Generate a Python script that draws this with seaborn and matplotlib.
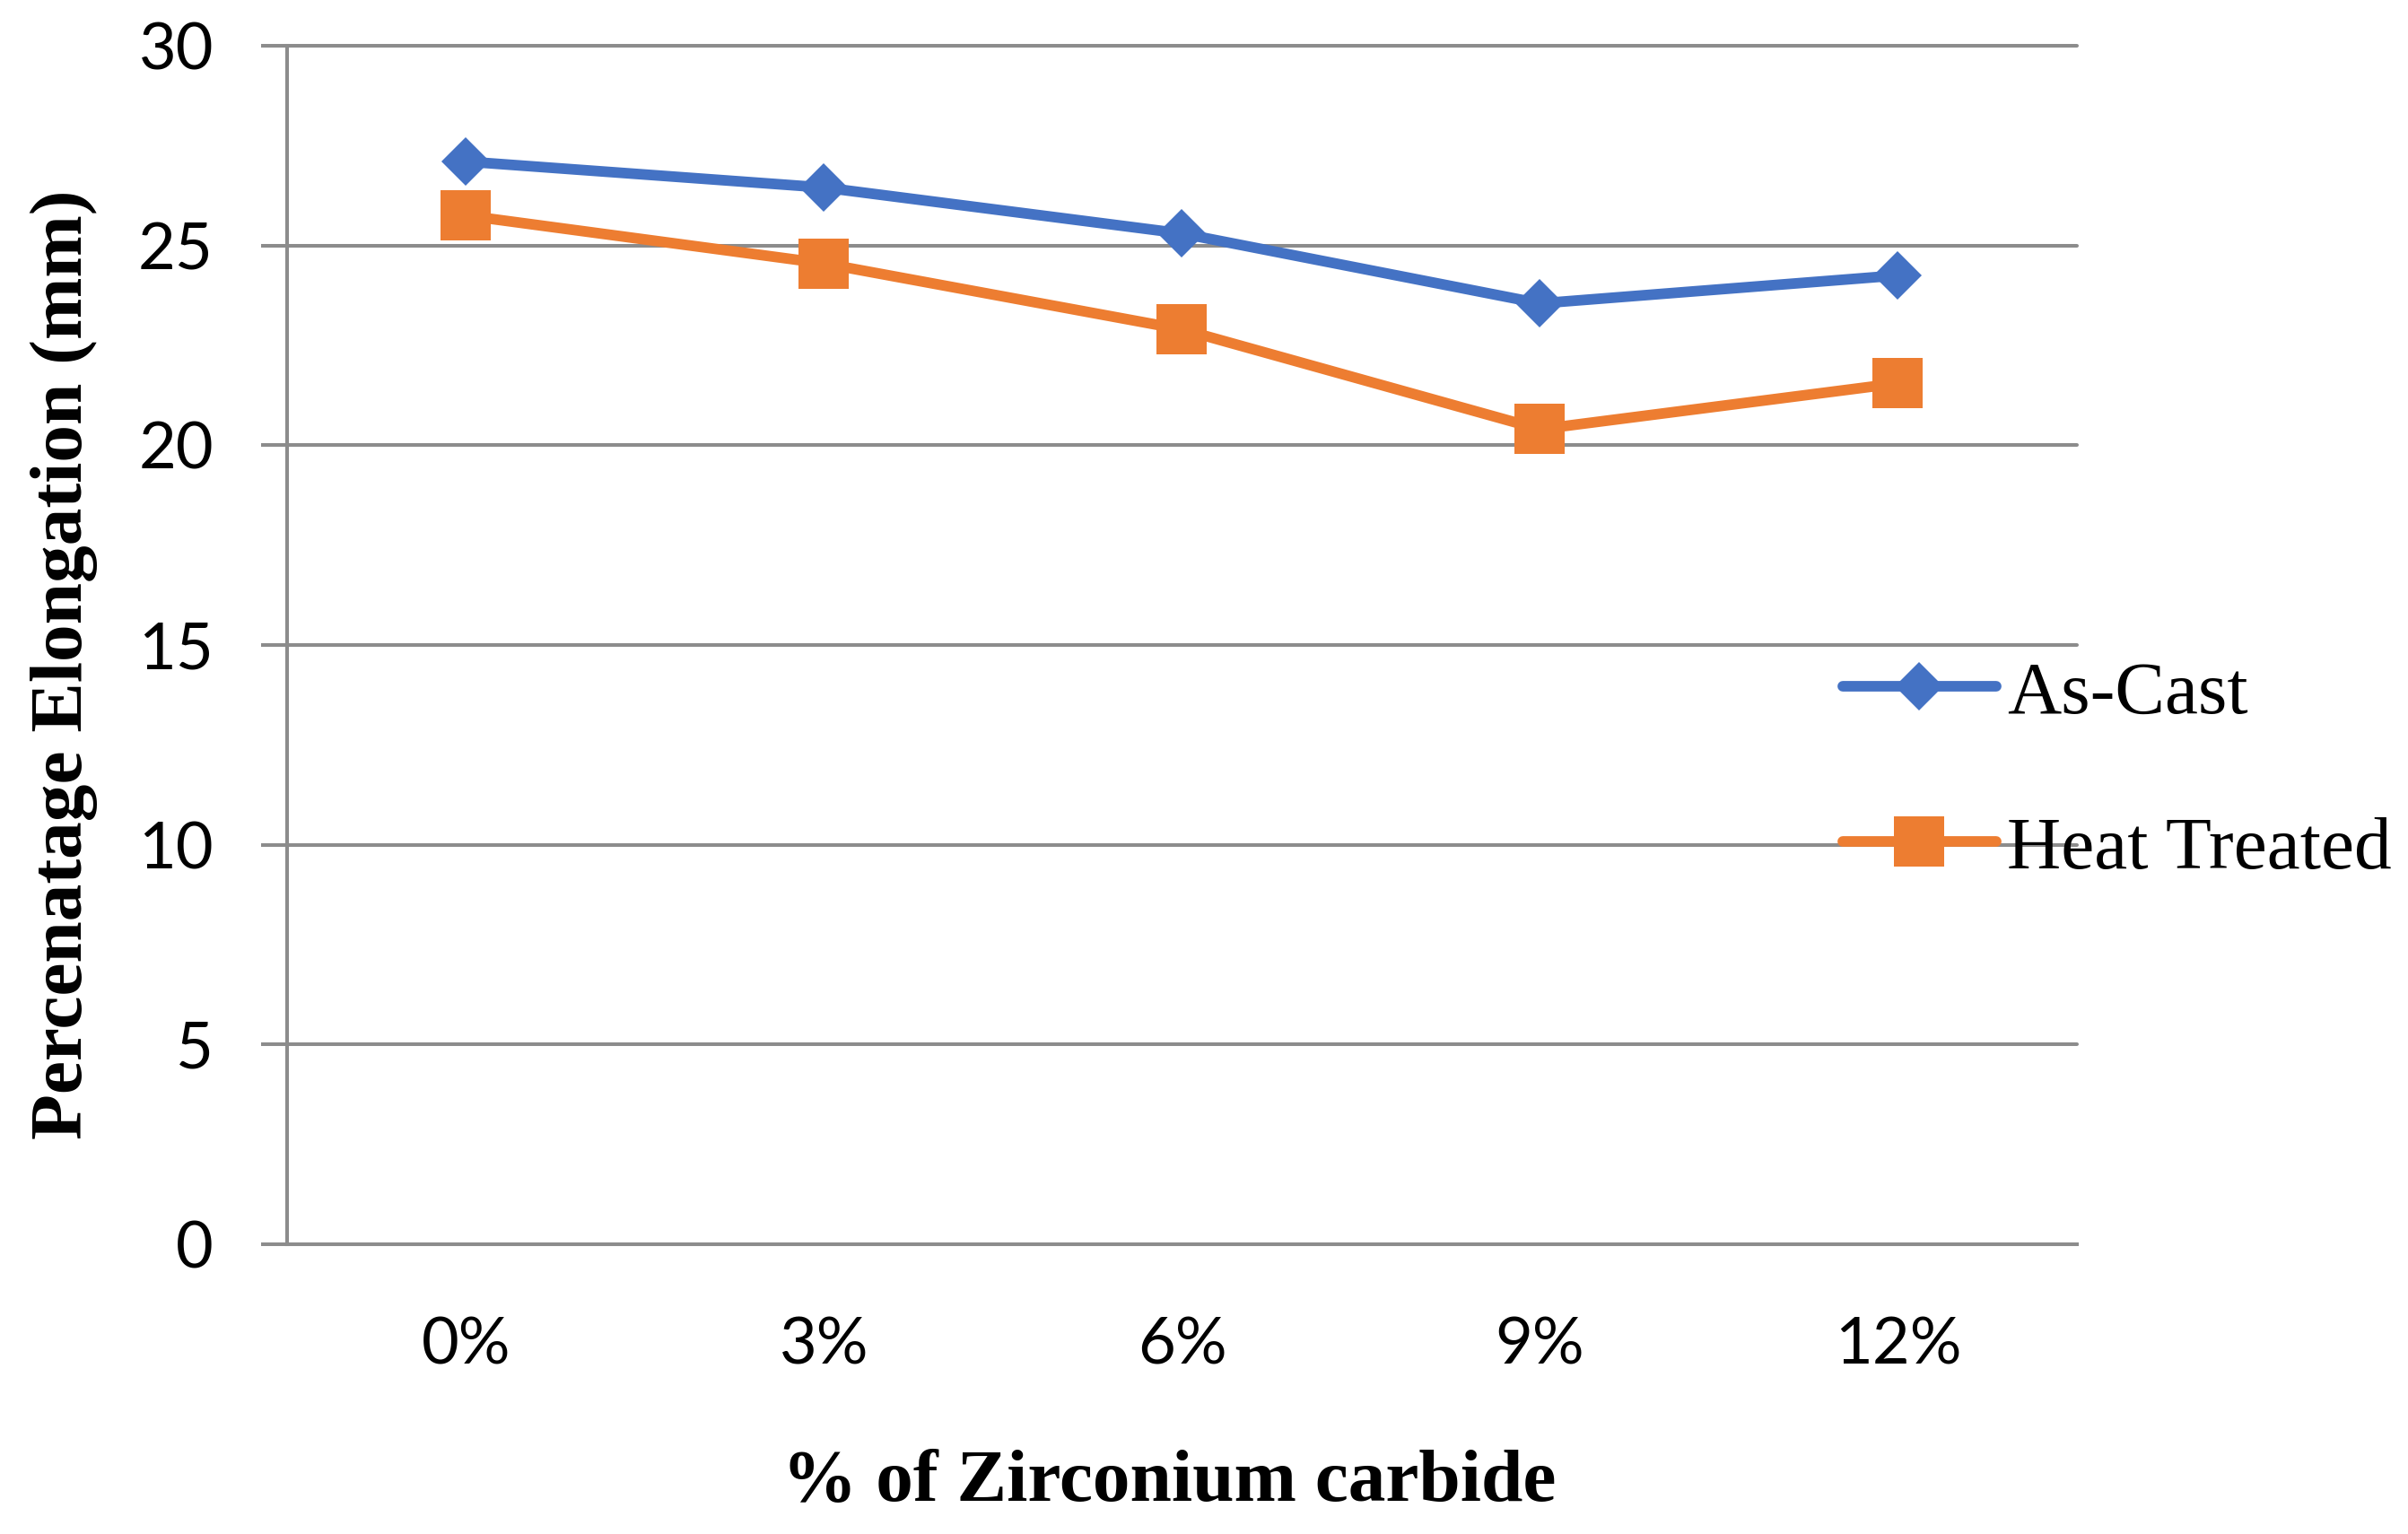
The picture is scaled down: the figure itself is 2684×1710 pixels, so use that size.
import seaborn as sns
import matplotlib.pyplot as plt

# data
categories = ['0%', '3%', '6%', '9%', '12%']
as_cast = [27.1, 26.45, 25.3, 23.55, 24.25]
heat_treated = [25.75, 24.55, 22.9, 20.4, 21.55]
y_ticks = [0, 5, 10, 15, 20, 25, 30]

GRAY = '#8c8c8c'
BLUE = '#4472C4'
ORANGE = '#ED7D31'


def make_chart():
    sns.set_style("white")
    plt.rcParams.update({'text.color': 'black', 'axes.labelcolor': 'black',
                         'xtick.color': 'black', 'ytick.color': 'black'})
    fig = plt.figure(figsize=(26.84, 17.10), dpi=100)
    ax = fig.add_axes([0.1192, 0.1889, 0.7433, 0.7813])

    x_pos = list(range(len(categories)))

    sns.lineplot(x=x_pos, y=heat_treated, ax=ax, color=ORANGE, linewidth=8.5,
                 marker='s', markersize=40, markeredgewidth=0,
                 label='Heat Treated', sort=False)
    sns.lineplot(x=x_pos, y=as_cast, ax=ax, color=BLUE, linewidth=8.5,
                 marker='D', markersize=27, markeredgewidth=0,
                 label='As-Cast', sort=False)
    for ln in ax.get_lines():
        ln.set_solid_capstyle('round')
        ln.set_solid_joinstyle('round')

    ax.set_xlim(-0.5, len(categories) - 0.5)
    ax.set_ylim(0, 30)
    ax.set_yticks(y_ticks)
    ax.set_xticks(x_pos)
    ax.set_xticklabels(categories)

    # grid and spines
    ax.yaxis.grid(True, color=GRAY, linewidth=2.9)
    ax.xaxis.grid(False)
    ax.set_axisbelow(True)
    for side in ['top', 'right']:
        ax.spines[side].set_visible(False)
    for side in ['left', 'bottom']:
        ax.spines[side].set_color(GRAY)
        ax.spines[side].set_linewidth(2.9)
    for gl in ax.get_ygridlines():
        gl.set_clip_on(False)

    ax.tick_params(axis='y', length=21, width=2.9, color=GRAY, pad=38,
                   direction='out', left=True, labelcolor='black')
    ax.tick_params(axis='x', length=0, pad=58, labelcolor='black')
    for lab in ax.get_xticklabels() + ax.get_yticklabels():
        lab.set_fontfamily('Lato')
        lab.set_fontsize(52)

    ax.set_xlabel('% of Zirconium carbide', fontfamily='Liberation Serif',
                  fontweight='bold', fontsize=60, va='baseline', color='black')
    ax.xaxis.set_label_coords(0.4927, -0.214)
    ax.set_ylabel('Percenatage Elongation (mm)', fontfamily='Liberation Serif',
                  fontweight='bold', fontsize=60, color='black')
    ax.yaxis.set_label_coords(-0.1058, 0.484)

    # legend to the right, As-Cast first
    handles, labels = ax.get_legend_handles_labels()
    order = [labels.index('As-Cast'), labels.index('Heat Treated')]
    leg = ax.legend([handles[i] for i in order], [labels[i] for i in order],
                    loc='center left', bbox_to_anchor=(2054 / 2684, 1 - 861 / 1710),
                    bbox_transform=fig.transFigure, frameon=False, borderpad=0,
                    borderaxespad=0, handlelength=2.05, handletextpad=0.15,
                    labelspacing=1.16, numpoints=1,
                    prop=dict(family='Liberation Serif', size=60))
    for t in leg.get_texts():
        t.set_color('black')

    fig.savefig('out.png', dpi=100)


if __name__ == "__main__":
    make_chart()
